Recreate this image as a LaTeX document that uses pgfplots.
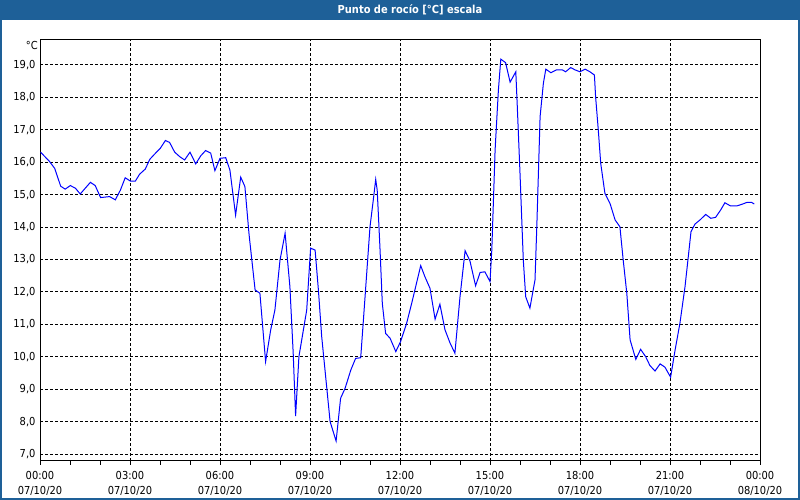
\documentclass[border=0pt]{standalone}
\usepackage{fontspec}
\setmainfont{DejaVu Sans Condensed}
\usepackage{pgfplots}
\pgfplotsset{compat=1.18}
\definecolor{barblue}{RGB}{30,96,152}
\definecolor{lineblue}{RGB}{0,0,255}

\begin{document}
\begin{tikzpicture}
    \useasboundingbox (0pt,0pt) rectangle (800pt,500pt);
    \fill[white] (0pt,0pt) rectangle (800pt,500pt);
    \fill[barblue] (0pt,480pt) rectangle (800pt,500pt);
    \draw[barblue, line width=2pt] (1pt,1pt) rectangle (799pt,499pt);
    \node[text=white, font=\bfseries\fontsize{11}{13}\selectfont]
        at (410pt,490pt) {Punto de rocío [°C] escala};
    \node[anchor=east, inner sep=0pt, font=\fontsize{11}{12}\selectfont]
        at (38pt,454pt) {°C};

    \begin{axis}[
        at={(40pt,39pt)},
        anchor=south west,
        scale only axis,
        width=720pt,
        height=421pt,
        xmin=0, xmax=24,
        ymin=6.785, ymax=19.77,
        xtick={0,3,...,24},
        minor x tick num=2,
        xticklabels={
            00:00\\07/10/20, 03:00\\07/10/20, 06:00\\07/10/20,
            09:00\\07/10/20, 12:00\\07/10/20, 15:00\\07/10/20,
            18:00\\07/10/20, 21:00\\07/10/20, 00:00\\08/10/20},
        ytick={7,8,...,19},
        yticklabel style={
            xshift=3pt,
            /pgf/number format/.cd, fixed, fixed zerofill, precision=1,
            use comma, assume math mode=true},
        tick label style={font=\fontsize{11}{15}\selectfont},
        xticklabel style={align=center, yshift=-3pt},
        xtick pos=lower,
        tick align=outside,
        major tick length=4pt,
        minor tick length=4pt,
        ytick style={draw=none},
        every tick/.style={black, line width=1pt},
        grid=major,
        major grid style={black, line width=1pt, dash pattern=on 3pt off 2pt},
        axis line style={black, line width=1pt},
        clip=true,
    ]
    \addplot[lineblue, line width=1pt, mark=none] table {
        h v
        0.02 16.31
        0.32 16.02
        0.49 15.81
        0.69 15.26
        0.84 15.17
        1.01 15.28
        1.18 15.20
        1.34 15.02
        1.68 15.38
        1.84 15.28
        2.02 14.91
        2.32 14.94
        2.51 14.84
        2.68 15.14
        2.84 15.52
        3.01 15.42
        3.18 15.42
        3.32 15.63
        3.51 15.79
        3.66 16.09
        3.82 16.25
        4.01 16.43
        4.18 16.67
        4.32 16.61
        4.49 16.31
        4.66 16.17
        4.82 16.07
        5.00 16.31
        5.19 15.95
        5.36 16.20
        5.52 16.36
        5.69 16.28
        5.83 15.74
        6.00 16.12
        6.19 16.14
        6.33 15.76
        6.52 14.37
        6.69 15.54
        6.83 15.25
        6.97 13.76
        7.17 12.06
        7.33 11.96
        7.52 9.85
        7.69 10.83
        7.83 11.44
        8.00 12.98
        8.17 13.81
        8.33 12.16
        8.44 10.11
        8.52 8.17
        8.63 10.00
        8.78 10.83
        8.89 11.44
        9.02 13.35
        9.17 13.29
        9.28 12.06
        9.39 10.62
        9.67 8.00
        9.87 7.40
        10.02 8.72
        10.17 9.03
        10.36 9.59
        10.52 9.95
        10.69 9.97
        10.78 11.13
        10.89 12.57
        11.00 14.01
        11.11 14.84
        11.19 15.47
        11.24 15.14
        11.33 13.40
        11.41 11.65
        11.52 10.72
        11.67 10.57
        11.86 10.16
        12.02 10.47
        12.22 11.03
        12.39 11.65
        12.69 12.81
        12.83 12.47
        13.00 12.11
        13.17 11.16
        13.33 11.62
        13.50 10.83
        13.67 10.42
        13.83 10.11
        14.00 11.85
        14.17 13.27
        14.33 12.96
        14.52 12.19
        14.67 12.60
        14.83 12.62
        15.00 12.32
        15.06 13.29
        15.17 16.38
        15.28 18.23
        15.36 19.18
        15.52 19.07
        15.67 18.47
        15.86 18.79
        15.91 17.71
        16.00 15.66
        16.11 12.98
        16.19 11.85
        16.33 11.50
        16.50 12.37
        16.56 14.01
        16.67 17.41
        16.78 18.44
        16.86 18.87
        17.03 18.76
        17.22 18.85
        17.41 18.85
        17.52 18.79
        17.69 18.92
        17.83 18.85
        18.00 18.79
        18.17 18.87
        18.33 18.79
        18.48 18.69
        18.52 18.02
        18.61 16.99
        18.69 15.97
        18.83 15.04
        19.00 14.73
        19.17 14.22
        19.33 14.01
        19.44 12.98
        19.56 11.96
        19.67 10.52
        19.86 9.92
        20.02 10.23
        20.19 10.00
        20.33 9.73
        20.50 9.56
        20.67 9.78
        20.83 9.68
        21.02 9.37
        21.17 10.21
        21.33 11.03
        21.50 12.16
        21.61 13.09
        21.70 13.86
        21.83 14.09
        22.00 14.22
        22.19 14.39
        22.36 14.27
        22.52 14.30
        22.69 14.53
        22.83 14.75
        23.02 14.65
        23.22 14.65
        23.39 14.70
        23.56 14.76
        23.72 14.76
        23.81 14.71
    };
    \end{axis}
\end{tikzpicture}
\end{document}
